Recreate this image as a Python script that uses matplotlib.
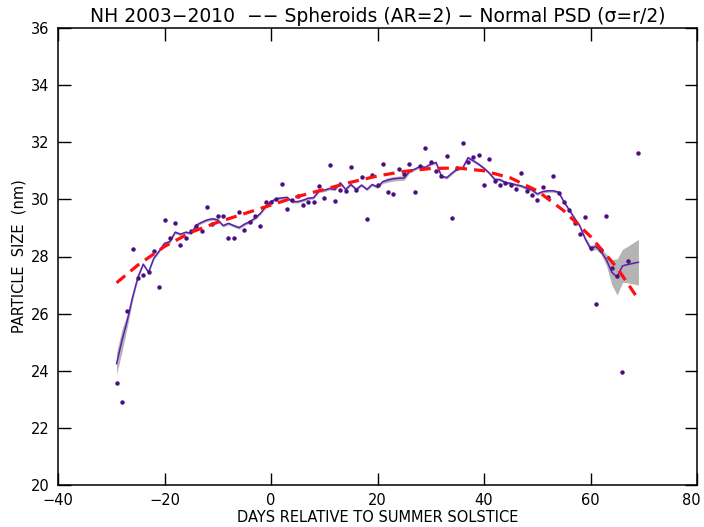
import numpy as np
import matplotlib
matplotlib.use("Agg")
import matplotlib.pyplot as plt
from matplotlib.transforms import ScaledTranslation

plt.rcParams['font.family'] = ['DejaVu Sans']

# 各日の粒径（点）
pt_days = list(range(-29, 68)) + [69]
pt_size = [23.58, 22.92, 26.08, 28.26, 27.24, 27.35, 27.47, 28.19, 26.93, 29.27,
           28.66, 29.18, 28.39, 28.66, 28.90, 29.08, 28.90, 29.73, 29.13, 29.43,
           29.43, 28.65, 28.66, 29.56, 28.93, 29.20, 29.43, 29.07, 29.91, 29.92,
           30.01, 30.55, 29.66, 29.97, 30.12, 29.80, 29.92, 29.92, 30.46, 30.06,
           31.20, 29.94, 30.32, 30.29, 31.14, 30.32, 30.78, 29.30, 30.85, 30.50,
           31.23, 30.25, 30.19, 31.07, 30.88, 31.23, 30.27, 31.18, 31.79, 31.32,
           30.99, 30.82, 31.53, 29.35, 31.11, 31.98, 31.30, 31.47, 31.55, 30.50,
           31.41, 30.64, 30.49, 30.58, 30.49, 30.38, 30.92, 30.30, 30.15, 29.97,
           30.44, 30.07, 30.83, 30.22, 29.92, 29.63, 29.17, 28.80, 29.38, 28.31,
           26.33, 28.23, 29.41, 27.61, 27.33, 23.96, 27.84, 31.61]

# 平滑化した線と灰色の幅
line_days = list(range(-29, 70))
line_size = [24.25, 25.05, 25.75, 26.57, 27.27, 27.73, 27.45, 27.94, 28.19, 28.46,
             28.52, 28.85, 28.78, 28.85, 28.81, 29.10, 29.20, 29.28, 29.32, 29.28,
             29.08, 29.16, 29.08, 29.01, 29.13, 29.22, 29.34, 29.51, 29.74, 29.92,
             30.02, 30.05, 30.07, 29.92, 29.92, 29.97, 30.04, 30.06, 30.29, 30.32,
             30.38, 30.35, 30.58, 30.35, 30.52, 30.35, 30.50, 30.35, 30.52, 30.43,
             30.62, 30.68, 30.72, 30.74, 30.75, 30.98, 31.06, 31.15, 31.12, 31.24,
             31.29, 30.81, 30.76, 30.92, 31.07, 31.10, 31.46, 31.35, 31.23, 31.09,
             30.92, 30.70, 30.69, 30.59, 30.56, 30.51, 30.47, 30.39, 30.33, 30.19,
             30.27, 30.30, 30.30, 30.25, 29.92, 29.63, 29.34, 29.07, 28.62, 28.28,
             28.35, 28.17, 27.88, 27.45, 27.28, 27.67, 27.72, 27.76, 27.80]
line_err = [0.38, 0.40, 0.23, 0.12, 0.08, 0.05, 0.05, 0.05, 0.05, 0.05,
            0.05, 0.05, 0.05, 0.05, 0.05, 0.05, 0.05, 0.05, 0.05, 0.05,
            0.05, 0.05, 0.05, 0.05, 0.05, 0.05, 0.05, 0.05, 0.05, 0.05,
            0.05, 0.05, 0.05, 0.05, 0.05, 0.05, 0.05, 0.05, 0.05, 0.05,
            0.05, 0.05, 0.05, 0.05, 0.05, 0.05, 0.05, 0.05, 0.05, 0.05,
            0.06, 0.08, 0.08, 0.08, 0.08, 0.06, 0.05, 0.05, 0.05, 0.05,
            0.05, 0.05, 0.05, 0.05, 0.05, 0.05, 0.05, 0.05, 0.05, 0.05,
            0.05, 0.05, 0.05, 0.05, 0.05, 0.05, 0.05, 0.05, 0.05, 0.05,
            0.05, 0.05, 0.05, 0.05, 0.05, 0.05, 0.05, 0.06, 0.08, 0.10,
            0.10, 0.10, 0.20, 0.44, 0.63, 0.58, 0.64, 0.72, 0.80]

# 赤い破線（フィット曲線）
fit_days = [-29, -25, -20, -15, -10, -5, 0, 5, 10, 15, 20, 25, 30, 35, 40,
            45, 50, 55, 60, 65, 69]
fit_size = [27.08, 27.70, 28.35, 28.85, 29.20, 29.50, 29.80, 30.10, 30.35,
            30.60, 30.82, 30.98, 31.08, 31.10, 31.00, 30.75, 30.30, 29.60,
            28.70, 27.60, 26.50]

fig = plt.figure(figsize=(7.04, 5.27), dpi=100)
ax = fig.add_axes([58 / 704, 1 - 485 / 527, 639 / 704, 457 / 527])

ld = np.array(line_days)
ls = np.array(line_size)
le = np.array(line_err)
ax.fill_between(ld, ls - le, ls + le, color='#b4b4b4', linewidth=0)
ax.plot(ld, ls, color='#5a1eb4', linewidth=1.1)
ax.plot(pt_days, pt_size, 'o', color='#4b0f82', markersize=3.2, markeredgewidth=0)
ax.plot(fit_days, fit_size, color='#ff1010', linewidth=2.3, dashes=(3.5, 2.2))

ax.set_xlim(-40, 80)
ax.set_ylim(20, 36)
ax.set_xticks(np.arange(-40, 81, 20))
ax.set_yticks(np.arange(20, 37, 2))
ax.tick_params(direction='in', length=9, width=1, top=True, right=True,
               labelsize=10.5, pad=6)
for s in ax.spines.values():
    s.set_linewidth(1.1)

# 右端の「80」が切れないよう少し左へ
last = ax.get_xticklabels()[-1]
last.set_transform(last.get_transform() + ScaledTranslation(-4 / 72, 0, fig.dpi_scale_trans))

ax.set_title('NH 2003\u22122010  \u2212\u2212 Spheroids (AR=2) \u2212 Normal PSD (\u03c3=r/2)',
             fontsize=13.5, pad=4)
ax.set_xlabel('DAYS RELATIVE TO SUMMER SOLSTICE', fontsize=10.5, labelpad=1)
ax.set_ylabel('PARTICLE  SIZE  (nm)', fontsize=10.5, labelpad=3)

fig.savefig('out.png', dpi=100)
